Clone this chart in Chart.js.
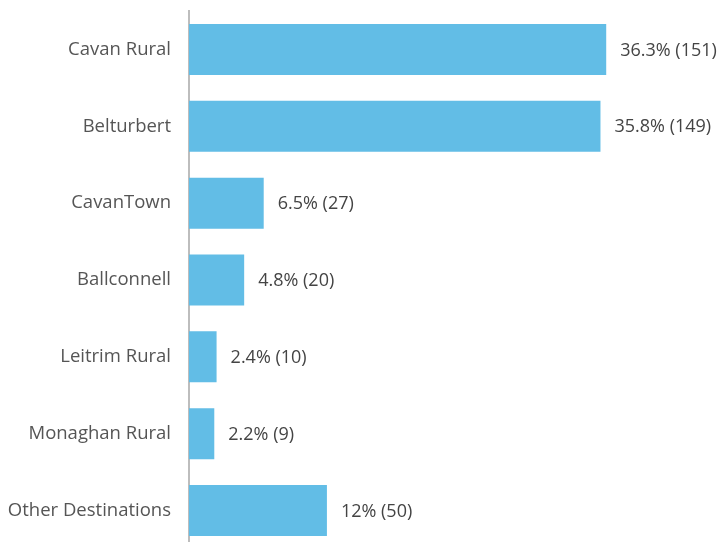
<!DOCTYPE html>
<html><head><meta charset="utf-8">
<script src="https://cdn.jsdelivr.net/npm/chart.js@4"></script>
<style>html,body{margin:0;padding:0;overflow:hidden;background:#fff;width:720px;height:542px}
canvas{display:block}</style>
</head><body>
<canvas id="c" width="720" height="549" style="width:720px;height:549px"></canvas>
<script>
const categories = ["Cavan Rural","Belturbert","CavanTown","Ballconnell","Leitrim Rural","Monaghan Rural","Other Destinations"];
const percents = [36.3, 35.8, 6.5, 4.8, 2.4, 2.2, 12];
const counts = [151, 149, 27, 20, 10, 9, 50];
const valueLabels = ["36.3% (151)","35.8% (149)","6.5% (27)","4.8% (20)","2.4% (10)","2.2% (9)","12% (50)"];

const labelPlugin = {
  id: 'valueLabels',
  afterDatasetsDraw(chart) {
    const ctx = chart.ctx;
    const meta = chart.getDatasetMeta(0);
    ctx.save();
    ctx.font = '18px "Open Sans"';
    ctx.fillStyle = '#444444';
    ctx.textAlign = 'left';
    ctx.textBaseline = 'middle';
    meta.data.forEach((bar, i) => {
      ctx.fillText(valueLabels[i], bar.x + 14, bar.y + 1);
    });
    ctx.restore();
  }
};

new Chart(document.getElementById('c'), {
  type: 'bar',
  data: {
    labels: categories,
    datasets: [{
      data: percents,
      backgroundColor: '#62bde6',
      borderWidth: 0,
      barPercentage: 0.664,
      categoryPercentage: 1
    }]
  },
  options: {
    indexAxis: 'y',
    responsive: false,
    animation: false,
    layout: { padding: { top: 11, bottom: 0, left: 0, right: 0 } },
    plugins: { legend: { display: false }, tooltip: { enabled: false } },
    scales: {
      x: { display: false, min: 0, max: 46.2 },
      y: {
        afterFit(scale) { scale.width = 189; scale.paddingTop = 0; scale.paddingBottom = 0; },
        grid: { display: false, drawTicks: false },
        border: { display: true, color: '#bdbdbd', width: 2 },
        ticks: { color: '#555555', font: { family: 'Open Sans', size: 18.5 }, padding: 18 }
      }
    }
  },
  plugins: [labelPlugin]
});
</script>
</body></html>
